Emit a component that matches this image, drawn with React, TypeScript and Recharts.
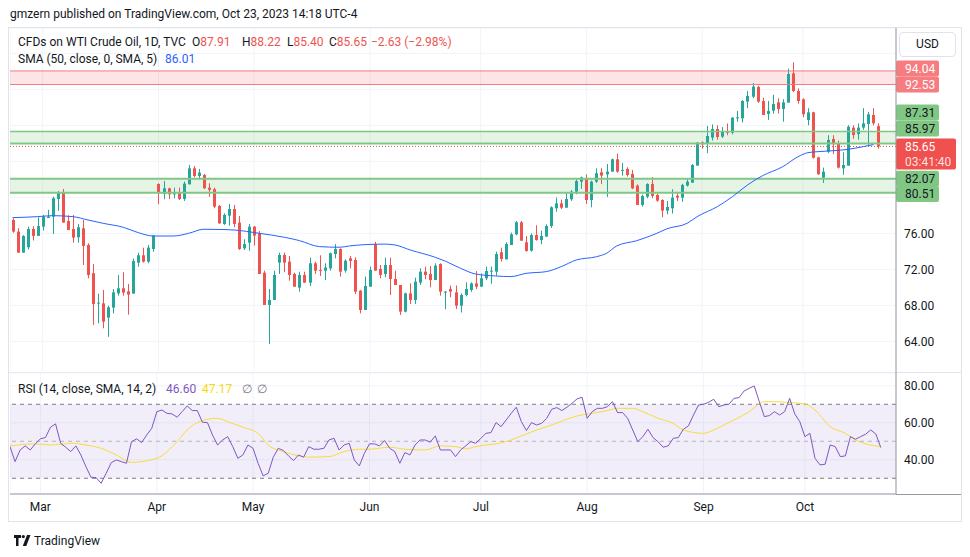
import React from "react";
import {
  ComposedChart,
  Bar,
  Line,
  XAxis,
  YAxis,
  CartesianGrid,
  ReferenceLine,
  ReferenceArea,
} from "recharts";

// daily candles, CFDs on WTI Crude Oil (TVC), Feb 21 -> Oct 23 2023
const opens = [
  77.48, 76.19, 73.85, 74.45, 76.48, 75.71, 76.74, 77.7, 77.85, 79.82,
  80.52, 77.37, 76.48, 75.56, 76.56, 74.71, 71.56, 68.19, 68.22, 66.63,
  67.74, 69.33, 69.89, 69.56, 69.3, 72.74, 73.56, 72.85, 74.26, 81.48,
  80.37, 81.0, 80.33, 80.56, 79.82, 81.44, 83.22, 82.37, 82.48, 81.07,
  80.9, 79.04, 77.04, 77.96, 78.7, 77.19, 74.33, 74.96, 76.74, 76.0,
  71.63, 68.04, 68.59, 72.74, 73.59, 72.85, 71.48, 69.96, 71.37, 70.52,
  72.67, 71.93, 71.85, 72.11, 73.7, 74.26, 71.85, 73.22, 73.04, 69.63,
  67.48, 70.07, 74.8, 72.04, 71.48, 72.48, 70.93, 70.26, 67.3, 69.33,
  68.59, 70.52, 71.74, 71.48, 70.81, 72.59, 69.41, 69.82, 69.44, 67.96,
  69.15, 69.7, 70.44, 70.07, 71.0, 71.74, 71.74, 73.89, 73.11, 74.7,
  75.89, 77.22, 75.0, 74.07, 75.81, 75.26, 75.63, 76.81, 78.78, 79.33,
  78.85, 79.78, 80.63, 81.74, 82.04, 79.7, 81.74, 82.78, 82.55, 82.85,
  84.22, 82.93, 83.15, 82.59, 81.3, 79.15, 80.07, 81.48, 80.26, 79.7,
  78.52, 78.78, 80.18, 79.96, 81.3, 81.63, 83.52, 86.11, 86.0, 86.63,
  87.59, 86.74, 87.37, 87.18, 88.78, 88.78, 90.63, 91.18, 92.26, 90.7,
  89.26, 89.63, 90.55, 89.81, 90.52, 93.77, 91.81, 90.89, 88.59, 89.44,
  84.44, 82.18, 85.07, 86.48, 86.0, 83.22, 83.52, 87.74, 87.03, 87.74,
  88.15, 89.15, 87.91,
];
const highs = [
  77.67, 76.56, 75.8, 76.74, 76.8, 77.78, 78.04, 78.6, 80.07, 80.7,
  80.93, 78.0, 78.04, 77.04, 77.48, 74.89, 72.6, 69.3, 69.7, 67.96,
  69.8, 71.37, 71.67, 70.37, 73.2, 73.85, 74.4, 74.7, 75.8, 81.56,
  81.8, 81.07, 81.07, 81.07, 81.74, 83.6, 83.48, 83.15, 82.6, 81.56,
  81.07, 79.15, 78.22, 79.26, 79.15, 77.93, 75.33, 77.04, 76.81, 76.26,
  71.85, 69.82, 71.85, 73.85, 73.85, 73.48, 71.63, 71.74, 71.74, 73.3,
  72.85, 73.56, 72.67, 73.85, 74.8, 74.33, 73.11, 73.48, 73.33, 69.7,
  71.19, 72.3, 75.04, 72.48, 73.3, 73.3, 71.85, 70.26, 69.41, 70.44,
  71.07, 72.11, 72.3, 72.37, 72.67, 72.67, 69.6, 70.19, 70.2, 69.33,
  70.55, 70.55, 71.81, 71.55, 72.3, 72.3, 73.96, 74.4, 75.0, 76.07,
  77.37, 77.37, 75.7, 76.0, 76.9, 76.3, 77.0, 79.0, 79.96, 79.74,
  80.6, 80.81, 82.0, 82.3, 82.55, 81.85, 83.22, 83.22, 83.7, 84.3,
  84.85, 83.81, 83.33, 83.04, 81.44, 80.3, 81.56, 82.26, 80.4, 79.78,
  79.6, 80.9, 80.6, 81.5, 82.0, 83.7, 86.15, 86.2, 87.93, 88.1,
  88.0, 87.8, 88.2, 88.9, 89.6, 90.8, 91.8, 92.7, 92.4, 91.07,
  90.7, 91.4, 91.0, 90.9, 94.3, 95.0, 92.1, 91.0, 89.9, 89.5,
  84.5, 83.3, 86.9, 86.9, 86.3, 85.0, 88.0, 88.0, 88.2, 89.9,
  89.5, 89.9, 88.22,
];
const lows = [
  76.07, 73.85, 73.85, 74.2, 75.2, 75.71, 76.3, 77.7, 75.93, 78.5,
  77.19, 76.37, 74.96, 74.96, 72.48, 71.0, 65.82, 66.0, 65.45, 64.5,
  67.1, 69.07, 69.07, 66.96, 69.3, 72.3, 72.74, 72.67, 73.96, 79.22,
  79.78, 79.8, 79.9, 79.7, 79.6, 81.44, 82.22, 82.0, 80.93, 80.07,
  78.78, 77.04, 76.93, 76.85, 76.67, 74.15, 74.15, 74.07, 74.63, 71.48,
  68.04, 63.7, 68.59, 71.48, 71.67, 70.74, 70.07, 69.52, 70.52, 70.15,
  71.48, 71.26, 70.81, 71.85, 73.22, 71.19, 71.63, 72.11, 69.26, 67.11,
  67.48, 70.07, 71.85, 70.99, 71.11, 69.15, 70.26, 66.93, 67.22, 68.15,
  68.15, 70.26, 70.89, 70.0, 70.81, 69.07, 67.56, 68.89, 67.59, 67.2,
  69.0, 69.5, 69.8, 70.07, 70.8, 70.4, 71.3, 72.85, 73.11, 74.7,
  75.78, 75.18, 73.96, 73.96, 75.18, 74.8, 75.63, 76.6, 78.4, 78.7,
  78.85, 79.6, 80.33, 80.93, 79.26, 78.89, 81.6, 81.48, 80.04, 82.85,
  82.74, 82.41, 82.3, 80.9, 79.15, 78.96, 79.89, 79.9, 79.5, 77.78,
  78.1, 78.2, 79.6, 79.5, 81.2, 81.63, 83.52, 85.4, 84.9, 86.3,
  86.4, 86.6, 86.9, 87.0, 88.4, 88.3, 89.9, 91.0, 90.5, 89.15,
  88.6, 89.3, 89.3, 88.4, 90.52, 91.7, 90.4, 88.9, 88.0, 84.3,
  82.5, 81.6, 84.9, 84.8, 83.2, 82.5, 83.52, 86.5, 86.4, 87.5,
  85.8, 88.0, 85.4,
];
const closes = [
  76.19, 73.85, 75.7, 76.48, 75.71, 76.8, 77.85, 77.85, 79.89, 80.56,
  77.19, 76.37, 75.52, 76.67, 74.6, 71.37, 68.15, 68.3, 66.19, 67.78,
  69.44, 69.89, 69.41, 69.19, 72.93, 73.56, 72.85, 74.41, 75.74, 80.45,
  81.0, 80.33, 80.56, 79.82, 81.52, 83.22, 82.37, 82.74, 81.0, 80.82,
  78.96, 77.11, 78.04, 78.7, 77.04, 74.26, 74.8, 76.74, 75.74, 71.48,
  68.04, 68.59, 71.37, 73.59, 72.74, 71.37, 70.07, 71.37, 70.52, 72.67,
  71.85, 71.85, 72.19, 73.78, 74.26, 71.74, 72.96, 72.93, 69.52, 67.48,
  70.15, 71.93, 71.85, 71.37, 72.48, 70.93, 70.26, 67.3, 69.33, 68.59,
  70.63, 71.74, 71.37, 70.81, 72.41, 69.52, 69.52, 69.52, 67.96, 69.15,
  69.81, 70.44, 70.07, 71.0, 71.81, 71.85, 73.7, 73.15, 74.81, 75.89,
  77.22, 75.18, 74.04, 75.81, 75.26, 75.7, 76.81, 78.89, 79.33, 78.85,
  79.81, 80.63, 81.81, 82.22, 79.7, 81.74, 82.67, 82.41, 82.85, 84.22,
  82.85, 83.04, 82.48, 81.0, 79.15, 80.15, 81.48, 80.15, 79.63, 78.52,
  78.93, 79.96, 79.96, 81.37, 81.74, 83.59, 86.07, 85.89, 86.81, 87.59,
  86.7, 87.3, 87.18, 88.85, 88.89, 90.7, 91.26, 92.3, 90.63, 89.15,
  89.59, 90.37, 89.81, 90.55, 93.7, 91.81, 90.7, 89.22, 89.44, 84.4,
  82.56, 82.85, 86.37, 85.89, 83.3, 83.59, 87.85, 86.92, 87.74, 88.22,
  89.22, 88.22, 85.65,
];

// SMA(50): [bar index, value]
const smaPoints: [number, number][] = [
  [0, 77.74], [5, 77.85], [8, 77.96], [12, 77.85], [15, 77.48], [18, 77.11],
  [22, 76.67], [25, 76.07], [28, 75.7], [32, 75.7], [35, 76.0], [38, 76.45],
  [42, 76.42], [44, 76.37], [49, 76.0], [54, 75.56], [57, 75.19], [61, 74.52],
  [65, 74.45], [67, 74.6], [70, 74.74], [74, 74.8], [76, 74.7], [79, 74.15],
  [84, 73.33], [86, 72.9], [89, 72.11], [92, 71.48], [96, 71.26], [99, 71.19],
  [102, 71.55], [106, 71.74], [109, 72.3], [112, 73.04], [116, 73.4], [118, 73.78],
  [120, 74.59], [124, 75.18], [128, 76.0], [130, 76.5], [134, 77.11], [136, 77.85],
  [140, 78.96], [143, 80.07], [146, 81.37], [149, 82.4], [153, 83.4], [156, 84.5],
  [158, 84.96], [160, 85.07], [163, 85.18], [166, 85.33], [169, 85.63], [171, 85.85],
];

const rsi = [
  47.1, 39, 45.3, 47.5, 45.3, 48.6, 51.3, 52, 57.6, 59.4,
  48.9, 46.8, 44.4, 47.5, 42.6, 36.3, 30.5, 30.4, 27.3, 32.7,
  38.5, 39.9, 39, 38.1, 49.8, 51.3, 49.3, 53.4, 57, 66,
  66.9, 65.1, 64.8, 63, 66, 69.1, 66.6, 66.6, 60.3, 60.1,
  53.4, 48, 50.7, 52.5, 47.1, 40.8, 42.6, 48, 46.2, 38.1,
  31.3, 32.7, 41.4, 46.2, 45, 42.1, 39.6, 42.6, 41.4, 47.1,
  45.7, 45.7, 46.2, 50.7, 51.6, 45.3, 48, 48.9, 39.9, 36.7,
  43.5, 48.6, 48.6, 47.5, 50.4, 46.2, 44.4, 38.1, 43.9, 42.6,
  48, 50.7, 50.7, 49.5, 52.9, 45.3, 45.3, 45.3, 41.7, 45.3,
  47.5, 49.8, 48.9, 51.6, 54.3, 54.7, 60.1, 57.9, 61.5, 65.1,
  68.4, 60.6, 55.8, 60.1, 58.8, 59.7, 62.4, 67.3, 68.2, 66.6,
  68.4, 70.5, 72.9, 73.8, 62.4, 66, 67.8, 67.8, 68.7, 71.4,
  65.5, 65.5, 62.4, 56.1, 49.8, 52.5, 56.5, 52, 49.8, 46.8,
  47.5, 51.6, 52, 56.5, 58.3, 64.2, 69.6, 70, 71.1, 72.7,
  68.7, 69.6, 70, 73.2, 73.6, 77.2, 78.6, 79.9, 71.4, 63.3,
  63.9, 66, 64.2, 66, 73.2, 64.8, 60.6, 52.5, 54.3, 40.8,
  37.2, 37.6, 48, 47.1, 41.7, 42.1, 52.5, 51.1, 52.5, 53.8,
  56.1, 54, 46.6,
];

// yellow SMA(14) of RSI: [bar index, value]
const rsiMaPoints: [number, number][] = [
  [0, 47.5], [5, 48.6], [8, 48], [12, 48.9], [15, 48], [18, 46.2], [21, 42.6],
  [24, 38.6], [29, 40.8], [33, 49.8], [35, 56.1], [38, 61.2], [41, 62.4], [43, 60.6],
  [46, 57.6], [49, 54.3], [51, 48], [54, 44.4], [57, 42.1], [59, 41.4], [63, 41.7],
  [66, 44.4], [69, 45.7], [71, 45.7], [75, 46.8], [78, 45.7], [82, 45.3], [85, 47.5],
  [88, 47.1], [90, 45.9], [92, 47.1], [94, 48], [96, 48.6], [99, 50.7], [102, 54],
  [104, 56.1], [107, 58.8], [110, 61.9], [112, 63.7], [115, 65.1], [118, 66.6],
  [120, 67.8], [123, 67.8], [125, 66], [128, 62.4], [131, 59.7], [133, 56.1],
  [137, 54.3], [139, 56.1], [141, 58.8], [143, 61.5], [146, 66], [149, 71.4],
  [151, 71.4], [154, 70.9], [157, 70.2], [159, 66.9], [162, 57.9], [165, 54.3],
  [167, 50.7], [169, 48.6], [172, 47.17],
];

const monthStarts = [6, 29, 48, 71, 93, 114, 137, 157];
const monthLabels = ["Mar", "Apr", "May", "Jun", "Jul", "Aug", "Sep", "Oct"];
const priceTicks = [64, 68, 72, 76, 80, 84, 88, 92, 96];
const rsiTicks = [40, 60, 80];
const resistanceZone = [92.53, 94.04];
const upperZone = [85.97, 87.31];
const lowerZone = [80.51, 82.07];
const lastPrice = 85.65;
const countdown = "03:41:40";
const PAD = 3;

const UP = "#26a69a";
const DOWN = "#ef5350";
const FONT = "Roboto, 'Liberation Sans', sans-serif";
const TEXT = "#131722";

const smaMap = new Map(smaPoints);
const maMap = new Map(rsiMaPoints);
const rows = Array.from({ length: opens.length + PAD }, (_, i) =>
  i < opens.length
    ? {
        i,
        open: opens[i],
        high: highs[i],
        low: lows[i],
        close: closes[i],
        range: [lows[i], highs[i]],
        sma: smaMap.get(i) ?? null,
        rsi: rsi[i],
        rsiMa: maMap.get(i) ?? null,
      }
    : { i }
);

const Candle = (props: any) => {
  const { x, y, width, height, payload } = props;
  if (!payload || payload.open == null) return null;
  const { open, close, high, low } = payload;
  const top = Math.min(y, y + height);
  const h = Math.abs(height);
  const k = high === low ? 0 : h / (high - low);
  const yO = top + (high - open) * k;
  const yC = top + (high - close) * k;
  const color = close >= open ? UP : DOWN;
  const cx = Math.round(x + width / 2) + 0.5;
  const bodyTop = Math.min(yO, yC);
  const bodyH = Math.max(1, Math.abs(yC - yO));
  return (
    <g>
      <line x1={cx} x2={cx} y1={top} y2={top + h} stroke={color} strokeWidth={1} />
      <rect x={cx - 1.5} y={bodyTop} width={3} height={bodyH} fill={color} />
    </g>
  );
};

const PriceTag = (props: any) => {
  const { viewBox, text, sub, fill, color, shift = 0 } = props;
  if (!viewBox) return null;
  const x = viewBox.x + viewBox.width;
  const cy = viewBox.y + shift;
  const h = sub ? 31 : 16;
  return (
    <g>
      <rect x={x} y={cy - 8} width={sub ? 60 : 43} height={h} fill={fill} rx={2} />
      <text x={x + 9} y={cy} dy="0.35em" fontSize={12} fill={color} fontFamily={FONT}>
        {text}
      </text>
      {sub && (
        <text x={x + 9} y={cy + 15} dy="0.35em" fontSize={12} fill={color} fillOpacity={0.85} fontFamily={FONT}>
          {sub}
        </text>
      )}
    </g>
  );
};

const PriceTick = (p: any) =>
  p.payload.value > 78 ? (
    <g />
  ) : (
    <text x={p.x} y={p.y} dy="0.35em" fontSize={12} fill={TEXT} fontFamily={FONT}>
      {p.payload.value.toFixed(2)}
    </text>
  );

const Abs = ({ x, y, children, style }: any) => (
  <div style={{ position: "absolute", left: x, top: y - 8, height: 16, lineHeight: "16px", fontSize: 12, whiteSpace: "nowrap", ...style }}>
    {children}
  </div>
);

export default function App() {
  return (
    <div style={{ position: "absolute", left: 0, top: 0, width: 970, height: 557, background: "#fff", fontFamily: FONT, color: TEXT, overflow: "hidden" }}>
      <Abs x={10} y={14}>gmzern published on TradingView.com, Oct 23, 2023 14:18 UTC-4</Abs>

      {/* frame */}
      <div style={{ position: "absolute", left: 8, top: 27, width: 952, height: 493, border: "1px solid #e0e3eb" }} />
      <div style={{ position: "absolute", left: 8, top: 372, width: 953, height: 1, background: "#e0e3eb" }} />

      <div style={{ position: "absolute", left: 10, top: 28 }}>
        <ComposedChart width={950} height={345} data={rows} margin={{ top: 0, right: 0, bottom: 0, left: 0 }} barCategoryGap={0}>
          <CartesianGrid stroke="#f0f3fa" />
          <XAxis dataKey="i" type="category" hide ticks={monthStarts} interval={0} />
          <YAxis
            orientation="right"
            type="number"
            domain={[60.48, 98.81]}
            allowDataOverflow
            ticks={priceTicks}
            width={64}
            tickLine={false}
            axisLine={{ stroke: "#9598a1" }}
            tick={<PriceTick />}
          />
          <ReferenceArea y1={resistanceZone[0]} y2={resistanceZone[1]} fill="#f23645" fillOpacity={0.13} stroke="none" />
          <ReferenceArea y1={upperZone[0]} y2={upperZone[1]} fill="#4caf50" fillOpacity={0.14} stroke="none" />
          <ReferenceArea y1={lowerZone[0]} y2={lowerZone[1]} fill="#4caf50" fillOpacity={0.14} stroke="none" />
          <ReferenceLine y={resistanceZone[1]} stroke="#f07b7e" strokeWidth={1}
            label={<PriceTag text={resistanceZone[1].toFixed(2)} fill="#f77c80" color="#fff" shift={-2.4} />} />
          <ReferenceLine y={resistanceZone[0]} stroke="#f07b7e" strokeWidth={1}
            label={<PriceTag text={resistanceZone[0].toFixed(2)} fill="#f77c80" color="#fff" />} />
          <ReferenceLine y={upperZone[1]} stroke="#81c784" strokeWidth={1.5}
            label={<PriceTag text={upperZone[1].toFixed(2)} fill="#81c784" color={TEXT} shift={-19} />} />
          <ReferenceLine y={upperZone[0]} stroke="#81c784" strokeWidth={2}
            label={<PriceTag text={upperZone[0].toFixed(2)} fill="#81c784" color={TEXT} shift={-15} />} />
          <ReferenceLine y={lowerZone[1]} stroke="#81c784" strokeWidth={2}
            label={<PriceTag text={lowerZone[1].toFixed(2)} fill="#81c784" color={TEXT} />} />
          <ReferenceLine y={lowerZone[0]} stroke="#81c784" strokeWidth={2}
            label={<PriceTag text={lowerZone[0].toFixed(2)} fill="#81c784" color={TEXT} shift={1.3} />} />
          <ReferenceLine y={lastPrice} stroke="#ef5350" strokeDasharray="1 2"
            label={<PriceTag text={lastPrice.toFixed(2)} sub={countdown} fill="#f0504e" color="#fff" />} />
          <Line dataKey="sma" type="monotone" stroke="#2962ff" strokeWidth={1} dot={false} connectNulls isAnimationActive={false} />
          <Bar dataKey="range" barSize={3} shape={<Candle />} isAnimationActive={false} />
        </ComposedChart>
      </div>

      <div style={{ position: "absolute", left: 10, top: 373 }}>
        <ComposedChart width={950} height={149} data={rows} margin={{ top: 0, right: 0, bottom: 0, left: 0 }}>
          <CartesianGrid stroke="#f0f3fa" />
          <XAxis
            dataKey="i"
            type="category"
            ticks={monthStarts}
            interval={0}
            height={28}
            tickLine={false}
            axisLine={{ stroke: "#9598a1" }}
            tick={{ fontSize: 12, fill: TEXT, fontFamily: FONT }}
            tickFormatter={(v: number) => monthLabels[monthStarts.indexOf(v)] ?? ""}
          />
          <YAxis
            orientation="right"
            type="number"
            domain={[21.5, 86.9]}
            allowDataOverflow
            ticks={rsiTicks}
            width={64}
            tickLine={false}
            axisLine={{ stroke: "#9598a1" }}
            tick={{ fontSize: 12, fill: TEXT, fontFamily: FONT, textAnchor: "start" }}
            tickFormatter={(v: number) => v.toFixed(2)}
          />
          <ReferenceArea y1={30} y2={70} fill="#7e57c2" fillOpacity={0.1} stroke="none" />
          <ReferenceLine y={70} stroke="#787b86" strokeDasharray="4 4" />
          <ReferenceLine y={50} stroke="#787b86" strokeOpacity={0.5} strokeDasharray="4 4" />
          <ReferenceLine y={30} stroke="#787b86" strokeDasharray="4 4" />
          <Line dataKey="rsiMa" type="monotone" stroke="#f7dc3a" strokeWidth={1} dot={false} connectNulls isAnimationActive={false} />
          <Line dataKey="rsi" type="linear" stroke="#7e57c2" strokeWidth={1} dot={false} isAnimationActive={false} />
        </ComposedChart>
      </div>
      <div style={{ position: "absolute", left: 896, top: 494, width: 65, height: 1, background: "#9598a1" }} />

      {/* legends */}
      <Abs x={18} y={42}>CFDs on WTI Crude Oil, 1D, TVC</Abs>
      <Abs x={192} y={42}>O<span style={{ color: DOWN }}>87.91</span></Abs>
      <Abs x={242} y={42}>H<span style={{ color: DOWN }}>88.22</span></Abs>
      <Abs x={287} y={42}>L<span style={{ color: DOWN }}>85.40</span></Abs>
      <Abs x={329} y={42}>C<span style={{ color: DOWN }}>85.65</span></Abs>
      <Abs x={371} y={42} style={{ color: DOWN }}>−2.63 (−2.98%)</Abs>
      <Abs x={18} y={59}>SMA (50, close, 0, SMA, 5)</Abs>
      <Abs x={165} y={59} style={{ color: "#2962ff" }}>86.01</Abs>
      <Abs x={18} y={389}>RSI (14, close, SMA, 14, 2)</Abs>
      <Abs x={166} y={389} style={{ color: "#7e57c2" }}>46.60</Abs>
      <Abs x={202} y={389} style={{ color: "#f5d90a" }}>47.17</Abs>
      <Abs x={242} y={389} style={{ color: "#787b86" }}>∅</Abs>
      <Abs x={257} y={389} style={{ color: "#787b86" }}>∅</Abs>

      {/* currency button */}
      <div style={{ position: "absolute", left: 899, top: 32, width: 55, height: 23, border: "1px solid #e0e3eb", borderRadius: 4, background: "#fff", fontSize: 12, lineHeight: "23px", textAlign: "center" }}>
        USD
      </div>

      {/* logo */}
      <svg style={{ position: "absolute", left: 14, top: 535 }} width={18} height={11} viewBox="0 0 18 11">
        <path d="M0 0h7v3H4.5v8H2V3H0z" fill={TEXT} />
        <circle cx={9.3} cy={1.6} r={1.6} fill={TEXT} />
        <path d="M13 0h3.5l-4.2 11H8.8z" fill={TEXT} />
      </svg>
      <Abs x={34} y={541} style={{ fontSize: 12 }}>TradingView</Abs>
    </div>
  );
}
